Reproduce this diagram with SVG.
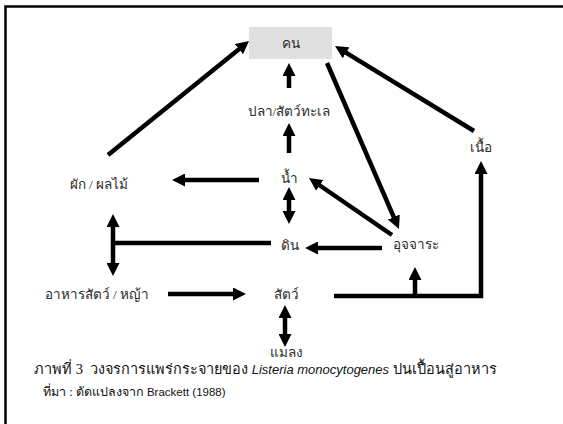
<svg xmlns="http://www.w3.org/2000/svg" width="563" height="424" viewBox="0 0 563 424">
<style>
.t{font-family:"Liberation Serif","Noto Sans",serif;font-size:13.5px;fill:#2a2a2a;text-anchor:middle;dominant-baseline:central}
.c{font-family:"Liberation Serif","Noto Sans",serif;font-size:14.5px;fill:#111}
.s{font-family:"Liberation Sans","Noto Sans",sans-serif;font-size:11.5px;fill:#111}
.l{fill:none;stroke:#000;stroke-width:4.5}
.a{marker-end:url(#ah)}
.d{marker-start:url(#ah);marker-end:url(#ah)}
</style>
<defs>
<marker id="ah" markerUnits="userSpaceOnUse" viewBox="0 0 13 13" markerWidth="13" markerHeight="13" refX="6" refY="6.5" orient="auto-start-reverse">
<path d="M0,0 L13,6.5 L0,13 z" fill="#000"/>
</marker>
</defs>
<rect x="5.5" y="6.5" width="620" height="480" fill="#fff" stroke="#000" stroke-width="2.5"/>
<g id="connectors">
<line class="l a" x1="108" y1="155" x2="243.6" y2="45.4"/>
<line class="l a" x1="474" y1="131" x2="341" y2="49.7"/>
<line class="l a" x1="327" y1="63" x2="396.2" y2="222.6"/>
<line class="l a" x1="392" y1="235" x2="314.8" y2="182"/>
<line class="l a" x1="289" y1="88" x2="289" y2="70"/>
<line class="l a" x1="289" y1="153" x2="289" y2="130"/>
<line class="l a" x1="259" y1="180" x2="179" y2="180"/>
<line class="l d" x1="289" y1="194" x2="289" y2="217"/>
<line class="l a" x1="382" y1="248" x2="312" y2="248"/>
<line class="l" x1="271" y1="243" x2="113" y2="243"/>
<line class="l d" x1="113" y1="221" x2="113" y2="269"/>
<line class="l a" x1="168" y1="294" x2="239" y2="294"/>
<polyline class="l a" points="334,296 481,296 481,168"/>
<line class="l a" x1="415" y1="296" x2="415" y2="274"/>
<line class="l d" x1="285" y1="312" x2="285" y2="340"/>
</g>
<g id="n-khon"><rect x="249" y="27" width="83" height="32" fill="#e0e0e0"/><text class="t" x="290.5" y="43">คน</text></g>
<g id="n-pla"><text class="t" x="289" y="111">ปลา/สัตว์ทะเล</text></g>
<g id="n-nam"><text class="t" x="289" y="178">น้ำ</text></g>
<g id="n-phak"><text class="t" x="99" y="184">ผัก / ผลไม้</text></g>
<g id="n-din"><text class="t" x="290" y="245">ดิน</text></g>
<g id="n-ujjara"><text class="t" x="416" y="244">อุจจาระ</text></g>
<g id="n-nuea"><text class="t" x="481" y="147">เนื้อ</text></g>
<g id="n-ahan"><text class="t" x="97" y="294">อาหารสัตว์ / หญ้า</text></g>
<g id="n-sat"><text class="t" x="286" y="294">สัตว์</text></g>
<g id="n-malaeng"><text class="t" x="286" y="352">แมลง</text></g>
<g id="caption">
<text class="c" x="34" y="374" xml:space="preserve">ภาพที่ 3  วงจรการแพร่กระจายของ <tspan font-family="Liberation Sans, sans-serif" font-style="italic" font-size="13">Listeria monocytogenes</tspan> ปนเปื้อนสู่อาหาร</text>
<text class="s" x="43" y="396"><tspan font-family="Liberation Serif, Noto Sans, serif" font-size="12.5">ที่มา : ดัดแปลงจาก</tspan> Brackett (1988)</text>
</g>
</svg>
